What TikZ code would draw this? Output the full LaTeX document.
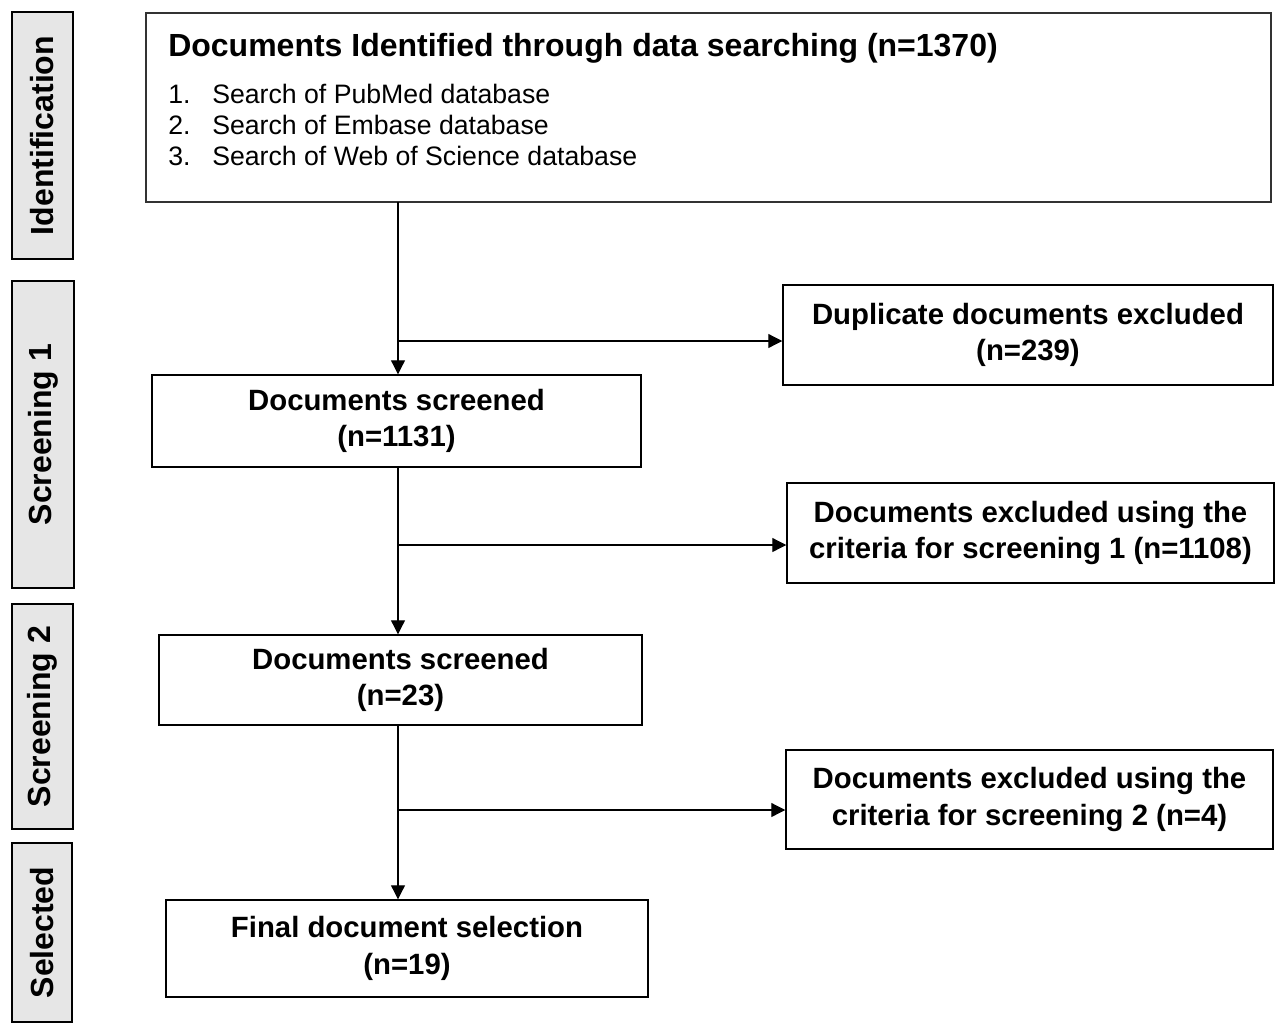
\documentclass[tikz,border=0pt]{standalone}
\usepackage{fontspec}
\setmainfont{Liberation Sans}
\usetikzlibrary{arrows.meta}
\definecolor{sidegray}{HTML}{E6E6E6}
\begin{document}
\begin{tikzpicture}[x=0.75pt,y=-0.75pt,
  box/.style 2 args={draw, line width=1.1pt, minimum width=#1*0.75pt, minimum height=#2*0.75pt, inner sep=0pt, align=center, font=\fontsize{22}{27.5}\selectfont\bfseries},
  side/.style 2 args={draw, fill=sidegray, line width=1.1pt, rotate=90, minimum width=#1*0.75pt, minimum height=#2*0.75pt, inner sep=0pt, font=\fontsize{24}{28}\selectfont\bfseries},
  item/.style={anchor=base west, inner sep=0pt, font=\fontsize{20}{24}\selectfont},
  arr/.style={line width=0.9pt, -{Triangle[length=10.5pt,width=10.5pt]}},
  ln/.style={line width=0.9pt}
]
\useasboundingbox (0,0) rectangle (1275,1025);

% side labels
\node[side={247}{61}] (lid) at (42.5,135.5) {Identification};
\node[side={307}{62}] (ls1) at (43,434.5) {Screening 1};
\node[side={225}{61}] (ls2) at (42.5,716.5) {Screening 2};
\node[side={179}{60}] (lsel) at (42,932.5) {Selected};

% top box
\node[draw, line width=0.8pt, draw=black!80, minimum width=1125*0.75pt, minimum height=189*0.75pt, inner sep=0pt] (top) at (708.5,107.5) {};
\node[item, font=\fontsize{24}{28}\selectfont\bfseries] (title) at (168,56.5) {Documents Identified through data searching (n=1370)};
\node[item] (i1) at (168,103.5) {\makebox[33pt][l]{1.}Search of PubMed database};
\node[item] (i2) at (168,134.5) {\makebox[33pt][l]{2.}Search of Embase database};
\node[item] (i3) at (168,165.5) {\makebox[33pt][l]{3.}Search of Web of Science database};

% main boxes
\node[box={489}{92}] (docs1) at (396.5,421) {\raisebox{-2.5pt}{\begin{tabular}{@{}c@{}}Documents screened\\(n=1131)\end{tabular}}};
\node[box={483}{90}] (docs2) at (400.5,680) {\raisebox{-2.5pt}{\begin{tabular}{@{}c@{}}Documents screened\\(n=23)\end{tabular}}};
\node[box={482}{97}] (final) at (407,948.5) {\raisebox{-2.5pt}{\begin{tabular}{@{}c@{}}Final document selection\\(n=19)\end{tabular}}};

% exclusion boxes
\node[box={490}{100}] (dup) at (1028,335) {Duplicate documents excluded\\(n=239)};
\node[box={487}{100}] (ex1) at (1030.5,533) {Documents excluded using the\\criteria for screening 1 (n=1108)};
\node[box={487}{99}] (ex2) at (1029.5,799.5) {Documents excluded using the\\criteria for screening 2 (n=4)};

% connector points
\coordinate (v1) at (398,202);
\coordinate (b1) at (398,341);
\coordinate (v2) at (398,467);
\coordinate (b2) at (398,545);
\coordinate (v3) at (398,725);
\coordinate (b3) at (398,810);

\draw[arr] (v1) -- (v1 |- docs1.north);
\draw[arr] (b1) -- (b1 -| dup.west);
\draw[arr] (v2) -- (v2 |- docs2.north);
\draw[arr] (b2) -- (b2 -| ex1.west);
\draw[arr] (v3) -- (v3 |- final.north);
\draw[arr] (b3) -- (b3 -| ex2.west);
\end{tikzpicture}
\end{document}
